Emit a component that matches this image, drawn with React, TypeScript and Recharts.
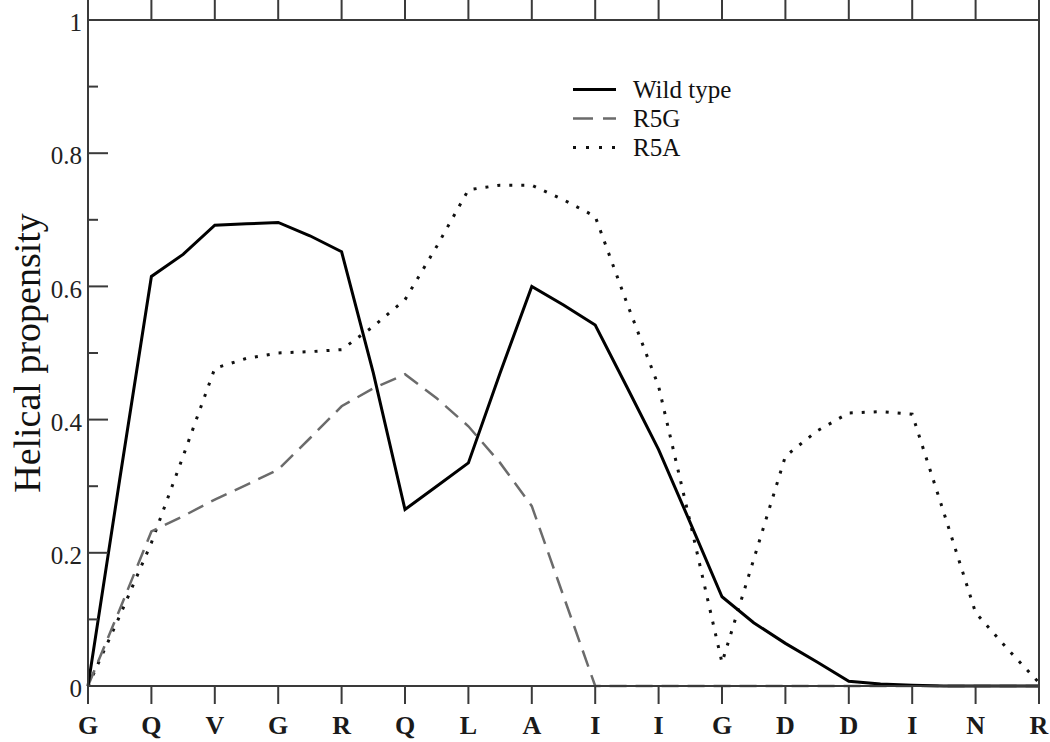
import React from 'react';
import { LineChart, Line, XAxis, YAxis, Legend } from 'recharts';

const FONT = '"Liberation Serif", "Times New Roman", serif';
const AXIS = '#3a3a3a';

// residues shown on the x axis (one per integer position)
const residues = ['G', 'Q', 'V', 'G', 'R', 'Q', 'L', 'A', 'I', 'I', 'G', 'D', 'D', 'I', 'N', 'R'];
const residueTicks = [0, 1, 2, 3, 4, 5, 6, 7, 8, 9, 10, 11, 12, 13, 14, 15];

// sampled positions along the sequence (half-residue steps)
const samplePositions = [
  0, 0.5, 1, 1.5, 2, 2.5, 3, 3.5, 4, 4.5, 5, 5.5, 6, 6.5, 7, 7.5,
  8, 8.5, 9, 9.5, 10, 10.5, 11, 11.5, 12, 12.5, 13, 13.5, 14, 14.5, 15,
];

const wildType = [
  0, 0.31, 0.615, 0.648, 0.692, 0.694, 0.696, 0.676, 0.652, 0.47, 0.265, 0.3, 0.335, 0.47, 0.6, 0.572,
  0.542, 0.449, 0.355, 0.245, 0.134, 0.095, 0.064, 0.036, 0.007, 0.003, 0.001, 0, 0, 0, 0,
];

const r5g = [
  0, 0.115, 0.232, 0.255, 0.28, 0.302, 0.325, 0.372, 0.42, 0.447, 0.468, 0.432, 0.39, 0.335, 0.27, 0.135,
  0, 0, 0, 0, 0, 0, 0, 0, 0, 0, 0, 0, 0, 0, 0,
];

const r5a = [
  0, 0.105, 0.215, 0.345, 0.477, 0.492, 0.5, 0.502, 0.505, 0.54, 0.58, 0.66, 0.745, 0.752, 0.752, 0.73,
  0.705, 0.575, 0.45, 0.245, 0.035, 0.19, 0.345, 0.383, 0.41, 0.412, 0.408, 0.26, 0.11, 0.056, 0.005,
];

const yTicks = [0, 0.1, 0.2, 0.3, 0.4, 0.5, 0.6, 0.7, 0.8, 0.9, 1];

const seriesNames = ['Wild type', 'R5G', 'R5A'];

const data = samplePositions.map((x, i) => ({
  x,
  wild: wildType[i],
  r5g: r5g[i],
  r5a: r5a[i],
}));

const styles = [
  { stroke: '#000000', strokeWidth: 3, strokeDasharray: undefined as string | undefined },
  { stroke: '#6b6b6b', strokeWidth: 2.5, strokeDasharray: '17 9' },
  { stroke: '#111111', strokeWidth: 3, strokeDasharray: '3 9' },
];

const isMajor = (v: number) => Math.round(v * 10) % 2 === 0;
const fmtY = (v: number) => (v === 0 ? '0' : v === 1 ? '1' : v.toFixed(1));

const LeftTick = (props: any) => {
  const { x, y, payload } = props;
  const v = payload.value as number;
  const major = isMajor(v);
  const ax = x + 6;
  return (
    <g>
      <line x1={ax} x2={ax + (major ? 20 : 10)} y1={y} y2={y} stroke={AXIS} strokeWidth={2} />
      {major && (
        <text x={x} y={y} dy="0.45em" textAnchor="end" fontSize={25} fontFamily={FONT} fill="#222">
          {fmtY(v)}
        </text>
      )}
    </g>
  );
};

const RightTick = (props: any) => {
  const { x, y, payload } = props;
  const v = payload.value as number;
  const major = isMajor(v);
  return <line x1={x} x2={x - (major ? 19 : 10)} y1={y} y2={y} stroke={AXIS} strokeWidth={2} />;
};

const YLabel = (props: any) => {
  const vb = props.viewBox || { x: 0, y: 20, width: 88, height: 666 };
  const cx = vb.x + 27;
  const cy = vb.y + vb.height / 2;
  return (
    <text
      x={cx}
      y={cy}
      transform={`rotate(-90 ${cx} ${cy})`}
      textAnchor="middle"
      dominantBaseline="central"
      fontSize={38}
      fontFamily={FONT}
      fill="#111"
    >
      Helical propensity
    </text>
  );
};

const renderLegend = () => (
  <div style={{ fontFamily: FONT, fontSize: 25, color: '#111' }}>
    {seriesNames.map((name, i) => (
      <div key={name} style={{ display: 'flex', alignItems: 'center', height: 29 }}>
        <svg width={60} height={29} style={{ display: 'block' }}>
          <line
            x1={0}
            x2={43}
            y1={14.5}
            y2={14.5}
            stroke={styles[i].stroke}
            strokeWidth={styles[i].strokeWidth}
            strokeDasharray={i === 1 ? '20 10' : i === 2 ? '3 10' : undefined}
          />
        </svg>
        <span style={{ lineHeight: '29px', whiteSpace: 'nowrap' }}>{name}</span>
      </div>
    ))}
  </div>
);

export default function App() {
  return (
    <div style={{ position: 'absolute', left: 0, top: 0, background: '#fff' }}>
      <LineChart width={1050} height={742} data={data} margin={{ top: 0, right: 10, bottom: 0, left: 0 }}>
        <XAxis
          xAxisId="bottom"
          dataKey="x"
          type="number"
          domain={[0, 15]}
          ticks={residueTicks}
          interval={0}
          orientation="bottom"
          height={56}
          tickSize={18}
          tickMargin={12}
          axisLine={{ stroke: AXIS, strokeWidth: 2 }}
          tickLine={{ stroke: AXIS, strokeWidth: 2 }}
          tickFormatter={(v: number) => residues[Math.round(v)]}
          tick={{ fontSize: 26, fontFamily: FONT, fill: '#1a1a1a', fontWeight: 'bold' }}
        />
        <XAxis
          xAxisId="top"
          dataKey="x"
          type="number"
          domain={[0, 15]}
          ticks={residueTicks}
          interval={0}
          orientation="top"
          height={20}
          tickSize={20}
          tickMargin={0}
          axisLine={{ stroke: AXIS, strokeWidth: 2 }}
          tickLine={{ stroke: AXIS, strokeWidth: 2 }}
          tickFormatter={() => ''}
        />
        <YAxis
          yAxisId="left"
          type="number"
          domain={[0, 1]}
          ticks={yTicks}
          interval={0}
          width={88}
          tickSize={0}
          tickMargin={6}
          axisLine={{ stroke: AXIS, strokeWidth: 2 }}
          tickLine={false}
          tick={<LeftTick />}
          label={{ content: <YLabel /> }}
        />
        <YAxis
          yAxisId="right"
          orientation="right"
          type="number"
          domain={[0, 1]}
          ticks={yTicks}
          interval={0}
          width={1}
          tickSize={0}
          tickMargin={0}
          axisLine={{ stroke: AXIS, strokeWidth: 2 }}
          tickLine={false}
          tick={<RightTick />}
        />
        <Line
          xAxisId="bottom"
          yAxisId="left"
          type="linear"
          dataKey="r5a"
          name={seriesNames[2]}
          stroke={styles[2].stroke}
          strokeWidth={styles[2].strokeWidth}
          strokeDasharray={styles[2].strokeDasharray}
          dot={false}
          activeDot={false}
          isAnimationActive={false}
        />
        <Line
          xAxisId="bottom"
          yAxisId="left"
          type="linear"
          dataKey="r5g"
          name={seriesNames[1]}
          stroke={styles[1].stroke}
          strokeWidth={styles[1].strokeWidth}
          strokeDasharray={styles[1].strokeDasharray}
          dot={false}
          activeDot={false}
          isAnimationActive={false}
        />
        <Line
          xAxisId="bottom"
          yAxisId="left"
          type="linear"
          dataKey="wild"
          name={seriesNames[0]}
          stroke={styles[0].stroke}
          strokeWidth={styles[0].strokeWidth}
          dot={false}
          activeDot={false}
          isAnimationActive={false}
        />
        <Legend
          layout="horizontal"
          verticalAlign="middle"
          align="center"
          wrapperStyle={{ position: 'absolute', left: 573, top: 75, width: 220 }}
          content={renderLegend}
        />
      </LineChart>
    </div>
  );
}
